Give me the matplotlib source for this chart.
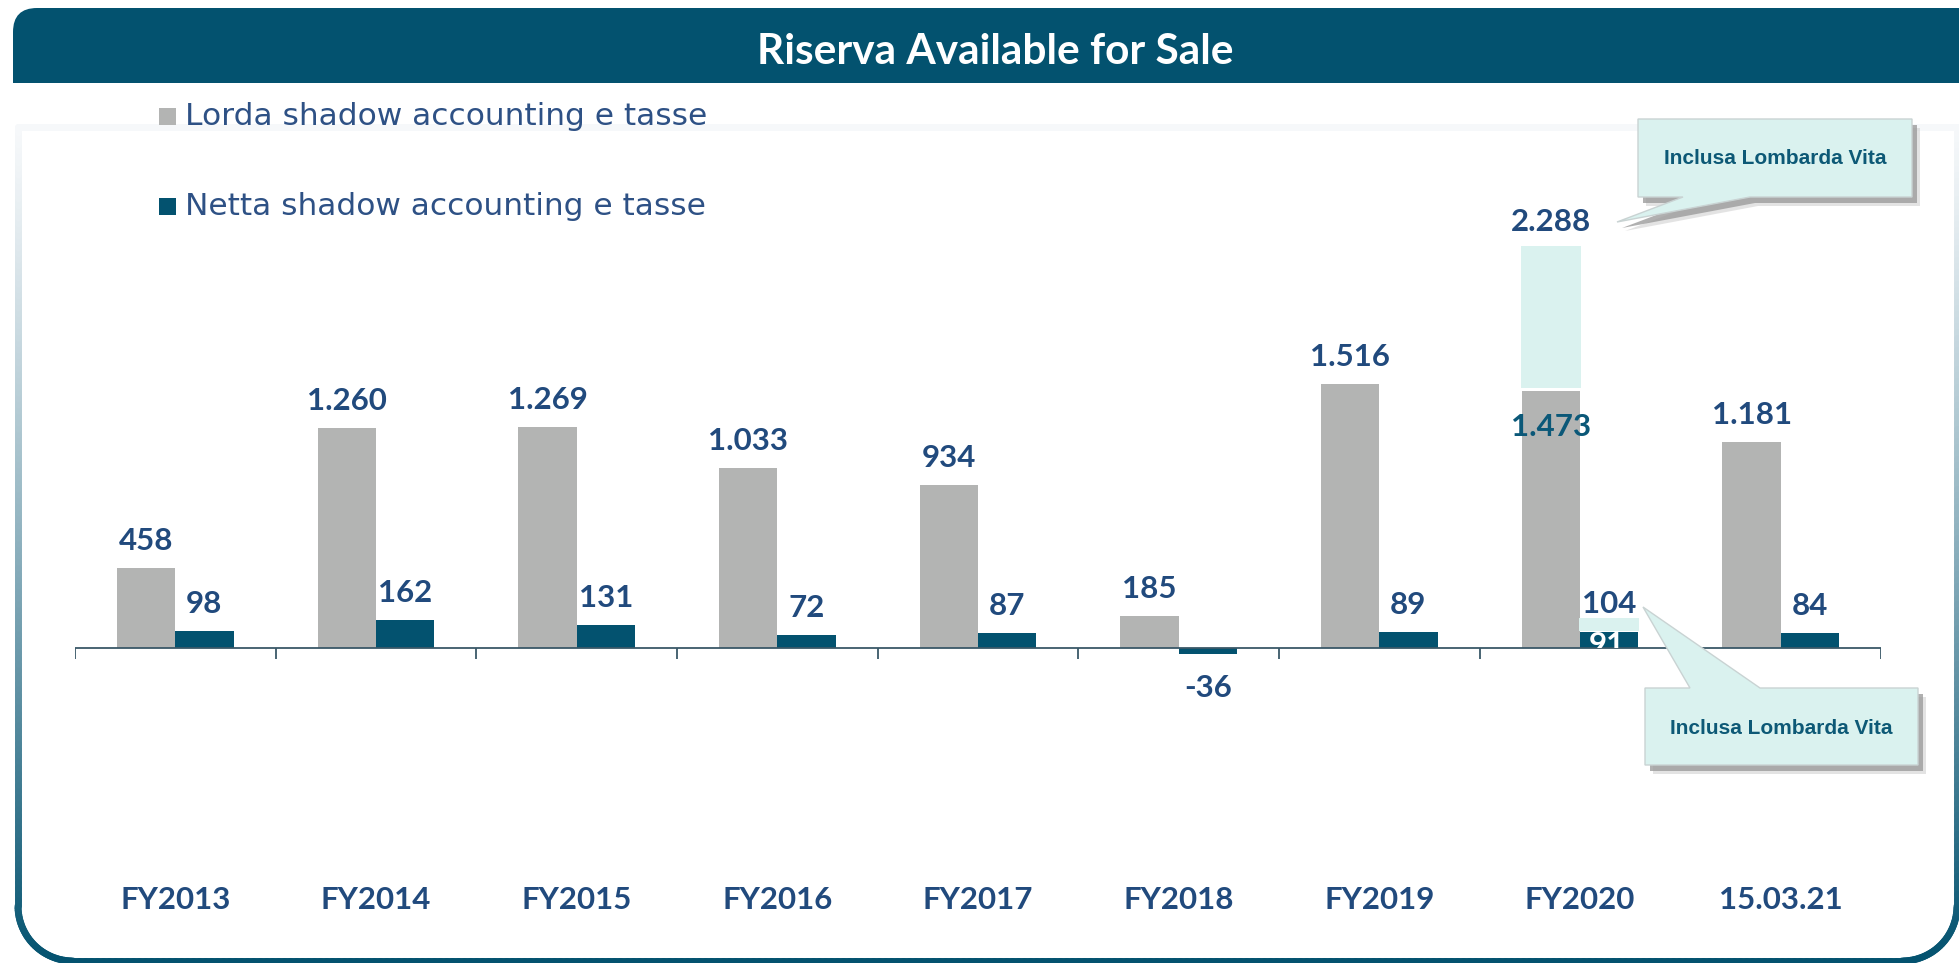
import numpy as np
import matplotlib
matplotlib.use("Agg")
from matplotlib import pyplot as plt
from matplotlib.patches import Rectangle, FancyBboxPatch, Polygon
from matplotlib.collections import LineCollection
from matplotlib.transforms import Affine2D
from matplotlib.colors import to_rgb

# data
categories = ['FY2013', 'FY2014', 'FY2015', 'FY2016', 'FY2017', 'FY2018', 'FY2019', 'FY2020', '15.03.21']
lorda = [458, 1260, 1269, 1033, 934, 185, 1516, 1473, 1181]
netta = [98, 162, 131, 72, 87, -36, 89, 91, 84]
series_names = ['Lorda shadow accounting e tasse', 'Netta shadow accounting e tasse']

# FY2020 values including Lombarda Vita
lv_idx = 7
lorda_lv = 2288
netta_lv = 104
callout = 'Inclusa Lombarda Vita'
title = 'Riserva Available for Sale'

navy = '#03526F'
grey = '#B3B4B3'
cyan = '#DAF2EF'
lab_blue = '#214A7D'
teal = '#0B5878'

W, H = 1959, 963
fig = plt.figure(figsize=(W / 100, H / 100), dpi=100)
px = Affine2D().scale(1 / W, -1 / H).translate(0, 1) + fig.transFigure


def fmt(v):
    return f"{v:,}".replace(',', '.')


# outer frame: square top corners, rounded bottom corners, gradient border
def frame_points(x0, y0, x1, y1, r, n=40):
    pts = [(x0, y0), (x1, y0)]
    for cx, cy, a0 in [(x1 - r, y1 - r, 0), (x0 + r, y1 - r, 90)]:
        a = np.radians(np.linspace(a0, a0 + 90, n))
        pts += list(zip(cx + r * np.cos(a), cy + r * np.sin(a)))
    pts.append((x0, y0))
    return np.array(pts)


def densify(p, step=6):
    out = [p[0]]
    for a, b in zip(p[:-1], p[1:]):
        k = max(int(np.hypot(*(b - a)) / step), 1)
        for j in range(1, k + 1):
            out.append(a + (b - a) * j / k)
    return np.array(out)


fr = densify(frame_points(18, 127, 1957, 961, 55))
segs = np.stack([fr[:-1], fr[1:]], axis=1)
ym = segs[:, :, 1].mean(axis=1)
t = np.clip((ym - 127) / (961 - 127), 0, 1) ** 1.2
c0, c1 = np.array(to_rgb('#F6F8FA')), np.array(to_rgb(navy))
cols = c0 + (c1 - c0) * t[:, None]
fig.add_artist(LineCollection(segs, colors=cols, linewidths=5, transform=px, zorder=0,
                              capstyle='round'))

# header band
fig.add_artist(FancyBboxPatch((13, 8), 1990, 60, boxstyle='round,pad=0,rounding_size=24',
                              fc=navy, ec='none', transform=px))
fig.add_artist(Rectangle((13, 40), 1990, 43, fc=navy, ec='none', transform=px))
fig.text(995 / W, 1 - 64 / H, title, ha='center', va='baseline', color='white',
         fontsize=30.5, fontweight='bold', family='Lato')

# legend
for i, (name, col) in enumerate(zip(series_names, [grey, navy])):
    yb = 125 + i * 90
    fig.add_artist(Rectangle((159, yb - 17), 17, 17, fc=col, ec='none', transform=px))
    fig.text(185 / W, 1 - yb / H, name, ha='left', va='baseline', color='#2E5185',
             fontsize=22.5, family='DejaVu Sans')

# chart
ax = fig.add_axes([75 / W, 1 - 700 / H, 1806 / W, 570 / H])
ax.patch.set_alpha(0)
x = np.arange(len(categories))
bw = 0.29
ax.set_xlim(-0.5, len(categories) - 0.5)
ax.set_ylim(-299, 2974)

bg = ax.bar(x - bw / 2, lorda, bw, color=grey)
bn = ax.bar(x + bw / 2, netta, bw, color=navy)
# Lombarda Vita increments
ax.bar(x[lv_idx] - bw / 2, lorda_lv - lorda[lv_idx], bw * 1.04, bottom=lorda[lv_idx] + 20, color=cyan)
hl_h = max(netta_lv - netta[lv_idx], 75)
ax.bar(x[lv_idx] + bw / 2, hl_h, bw * 1.04, bottom=netta[lv_idx] + 5, color=cyan)

ax.axhline(0, color='#3A5868', lw=1.3)
ax.vlines(np.arange(len(categories) + 1) - 0.5, -63, 0, color='#3A5868', lw=1.3)

lab = dict(ha='center', va='baseline', fontsize=22.5, fontweight='bold', family='Lato',
           textcoords='offset points')
for i in range(len(categories)):
    if i != lv_idx:
        ax.annotate(fmt(lorda[i]), (x[i] - bw / 2, lorda[i]), xytext=(0, 13), color=lab_blue, **lab)
        if netta[i] >= 0:
            ax.annotate(fmt(netta[i]), (x[i] + bw / 2, netta[i]), xytext=(0, 13), color=lab_blue, **lab)
        else:
            ax.annotate(fmt(netta[i]), (x[i] + bw / 2, netta[i]), xytext=(0, -31), color=lab_blue, **lab)

ax.annotate(fmt(lorda_lv), (x[lv_idx] - bw / 2, lorda_lv), xytext=(0, 13), color=lab_blue, **lab)
ax.annotate(fmt(lorda[lv_idx]), (x[lv_idx] - bw / 2, lorda[lv_idx]), xytext=(0, -32), color=teal, **lab)
ax.annotate(fmt(netta_lv), (x[lv_idx] + bw / 2, netta[lv_idx] + 5 + hl_h), xytext=(0, 3.6), color=lab_blue, **lab)
t91 = ax.annotate(fmt(netta[lv_idx]), (x[lv_idx] + bw / 2, netta[lv_idx]), xytext=(-1.5, -16),
                  color='white', **lab)
t91.set_clip_path(bn[lv_idx])

ax.set_xticks(x, categories)
ax.tick_params(axis='x', length=0, pad=134, labelsize=22.5, labelcolor=lab_blue)
for tl in ax.get_xticklabels():
    tl.set_fontweight('bold')
    tl.set_family('Lato')
ax.set_yticks([])
for s in ax.spines.values():
    s.set_visible(False)


# callouts
def callout_box(pts, tx, ty):
    pts = np.array(pts, dtype=float)
    fig.add_artist(Polygon(pts + [8, 9], closed=True, fc='#C8C8C8', ec='none', alpha=0.5, transform=px))
    fig.add_artist(Polygon(pts + [5, 6], closed=True, fc='#9C9C9C', ec='none', alpha=0.8, transform=px))
    fig.add_artist(Polygon(pts, closed=True, fc=cyan, ec='#C9D3D3', lw=1, transform=px))
    fig.text(tx / W, 1 - ty / H, callout, ha='center', va='center', color='#0D5976',
             fontsize=15, fontweight='bold', family='Liberation Sans')


callout_box([(1638, 119), (1912, 119), (1912, 197), (1750, 197), (1617, 222), (1683, 197), (1638, 197)],
            1775, 158)
callout_box([(1645, 688), (1690, 688), (1643, 607), (1760, 688), (1918, 688), (1918, 765), (1645, 765)],
            1781, 728)

fig.savefig('out.png', dpi=100)
